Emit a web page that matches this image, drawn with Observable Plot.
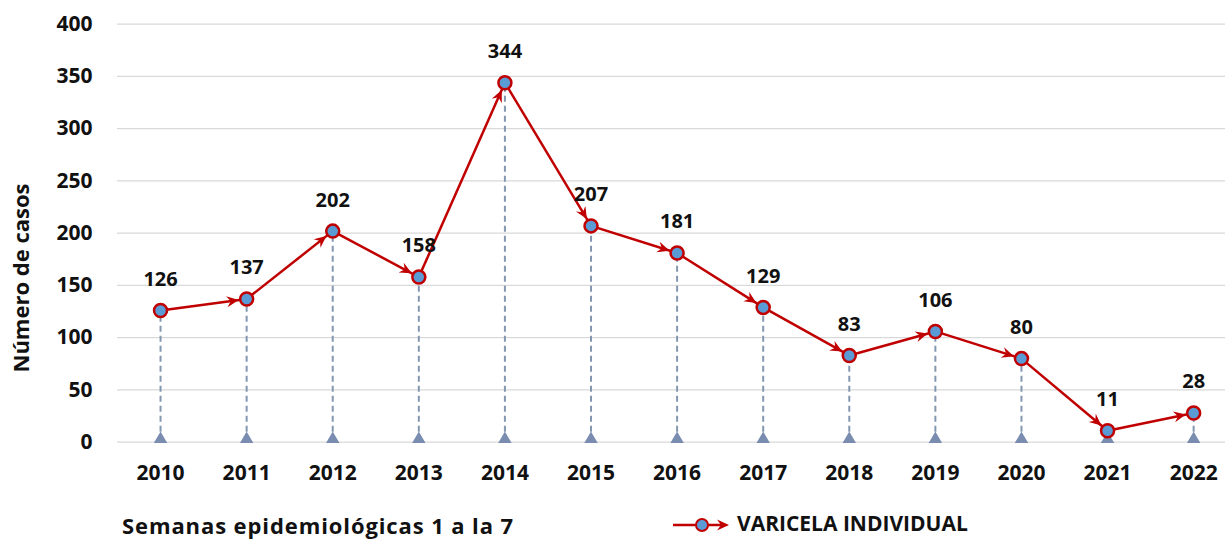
<!DOCTYPE html>
<html>
<head>
<meta charset="utf-8">
<script src="https://cdn.jsdelivr.net/npm/d3@7"></script>
<script src="https://cdn.jsdelivr.net/npm/@observablehq/plot@0.6"></script>
<style>
  html, body { margin: 0; padding: 0; background: #fff; }
  #wrap { position: relative; width: 1225px; height: 544px; font-family: "Open Sans", Lato, sans-serif; }
  #footer { position: absolute; left: 0; top: 495px; width: 1225px; height: 49px; }
  .cap { position: absolute; font-weight: 700; font-size: 21px; color: #111; white-space: nowrap; line-height: 1; }
  #ytitle { position: absolute; left: 20px; top: 278px; transform: translate(-50%, -50%) rotate(-90deg);
            font-weight: 700; font-size: 22px; color: #111; white-space: nowrap; line-height: 1; }
</style>
</head>
<body>
<div id="wrap">
  <div id="chart"></div>
  <div id="ytitle"></div>
  <div id="footer">
    <div class="cap" id="caption" style="left:122px; top:19px; font-size:22px; letter-spacing:0.9px;"></div>
    <svg style="position:absolute; left:665px; top:18px;" width="70" height="24">
      <line x1="8" y1="12" x2="58" y2="12" stroke="#c00000" stroke-width="2.5"></line>
      <path d="M64,12 L52,6.5 L56,12 L52,17.5 Z" fill="#c00000"></path>
      <circle cx="37" cy="12" r="6" fill="#5b9bd5" stroke="#c00000" stroke-width="2"></circle>
    </svg>
    <div class="cap" id="legendLabel" style="left:737px; top:18px;"></div>
  </div>
</div>
<script>
const years = [2010, 2011, 2012, 2013, 2014, 2015, 2016, 2017, 2018, 2019, 2020, 2021, 2022];
const cases = [126, 137, 202, 158, 344, 207, 181, 129, 83, 106, 80, 11, 28];
const yTicks = [0, 50, 100, 150, 200, 250, 300, 350, 400];
const yTitle = "Número de casos";
const caption = "Semanas epidemiológicas 1 a la 7";
const seriesName = "VARICELA INDIVIDUAL";

document.getElementById("ytitle").textContent = yTitle;
document.getElementById("caption").textContent = caption;
document.getElementById("legendLabel").textContent = seriesName;

const data = years.map((y, i) => ({year: y, value: cases[i]}));
const segments = data.slice(1).map((d, i) => ({x1: data[i].year, y1: data[i].value, x2: d.year, y2: d.value}));

const RED = "#c00000";

function stealth(color) {
  const ns = "http://www.w3.org/2000/svg";
  const m = document.createElementNS(ns, "marker");
  m.setAttribute("markerUnits", "userSpaceOnUse");
  m.setAttribute("markerWidth", "60");
  m.setAttribute("markerHeight", "60");
  m.setAttribute("refX", "0");
  m.setAttribute("refY", "0");
  m.setAttribute("viewBox", "-30 -30 60 60");
  m.setAttribute("orient", "auto");
  m.setAttribute("overflow", "visible");
  const p = document.createElementNS(ns, "path");
  p.setAttribute("d", "M-8,0 L-20,-5.5 L-16,0 L-20,5.5 Z");
  p.setAttribute("fill", color);
  p.setAttribute("stroke", "none");
  m.appendChild(p);
  return m;
}

const chart = Plot.plot({
  width: 1225,
  height: 495,
  marginLeft: 117,
  marginRight: 0,
  marginTop: 23.7,
  marginBottom: 53.3,
  style: {fontFamily: "'Open Sans', Lato, sans-serif", fontSize: "21px", fontWeight: "700", color: "#111", background: "#fff"},
  x: {type: "linear", domain: [2009.5, 2022.37]},
  y: {domain: [0, 400]},
  marks: [
    Plot.gridY(yTicks, {stroke: "#d9d9d9", strokeOpacity: 1, strokeWidth: 1.2}),
    Plot.axisY(yTicks, {tickSize: 0, tickPadding: 25, label: null, fontSize: 21, fontWeight: 700}),
    Plot.axisX(years, {tickSize: 0, tickPadding: 23, tickFormat: d => String(d), label: null, fontSize: 21, fontWeight: 700}),
    Plot.ruleX(data, {x: "year", y1: 0, y2: "value", stroke: "#8497b0", strokeWidth: 2, strokeDasharray: "6,4"}),
    Plot.dot(data, {x: "year", y: 0, symbol: "triangle", r: 5, dy: -3, fill: "#7a8db1", stroke: "none"}),
    Plot.link(segments, {x1: "x1", y1: "y1", x2: "x2", y2: "y2", stroke: RED, strokeWidth: 2.5, markerEnd: stealth}),
    Plot.dot(data, {x: "year", y: "value", r: 6.5, fill: "#5b9bd5", stroke: RED, strokeWidth: 2.5}),
    Plot.text(data, {x: "year", y: "value", text: d => String(d.value), dy: -31, fontSize: 20, fontWeight: 700, fill: "#111"})
  ]
});
document.getElementById("chart").appendChild(chart);
</script>
</body>
</html>
